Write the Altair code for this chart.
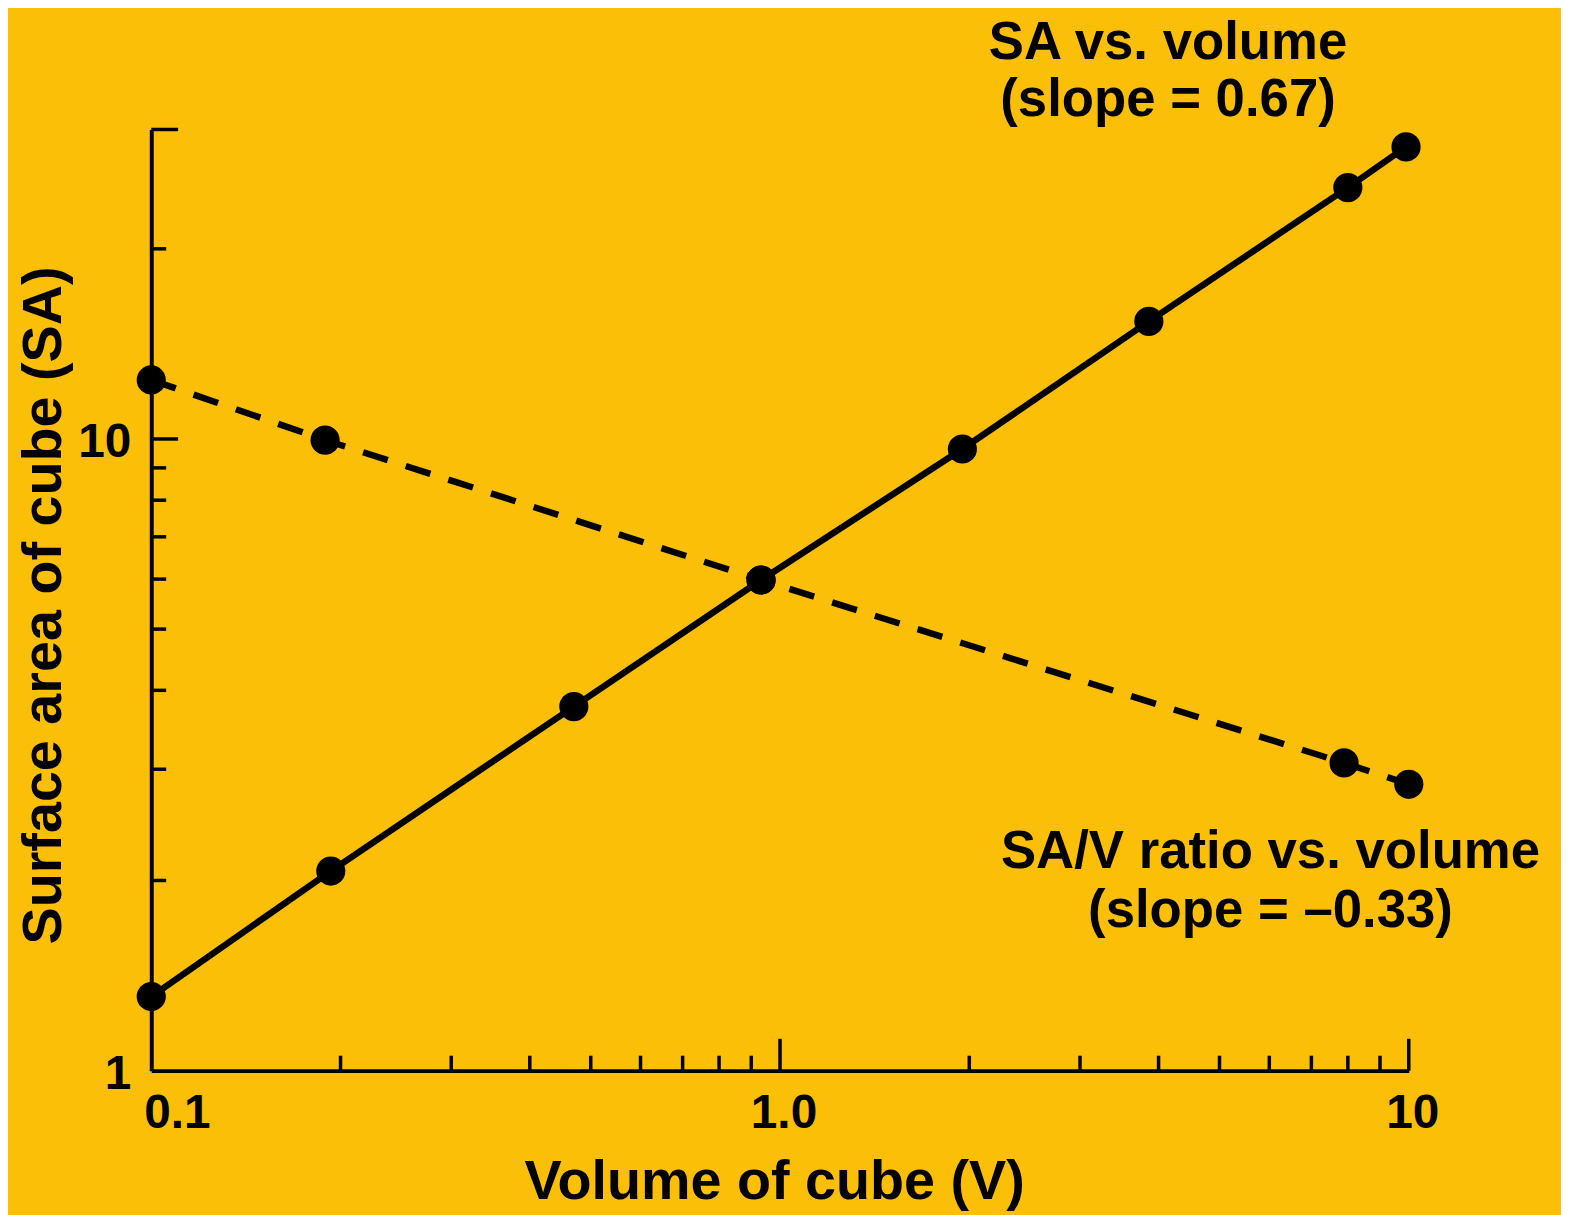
import altair as alt
import pandas as pd

# ---- data ----
volume_sa = [0.1, 0.193, 0.47, 0.933, 1.95, 3.86, 8.0, 9.9]
surface_area = [1.31, 2.07, 3.77, 5.98, 9.64, 15.35, 25.0, 29.0]
volume_ratio = [0.1, 0.189, 0.933, 7.89, 10.0]
sa_v_ratio = [12.4, 9.96, 5.98, 3.07, 2.84]

x_minor_ticks = [0.2, 0.3, 0.4, 0.5, 0.6, 0.7, 0.8, 0.9, 2, 3, 4, 5, 6, 7, 8, 9]
x_major_ticks = [1, 10]
y_minor_ticks = [2, 3, 4, 5, 6, 7, 8, 9, 20]
y_major_ticks = [10, 30.9]
x_label_values = [0.1, 1, 10]
x_label_texts = ["0.1", "1.0", "10"]
y_label_values = [1, 10]
y_label_texts = ["1", "10"]

annot_sa = ["SA vs. volume", "(slope = 0.67)"]
annot_ratio = ["SA/V ratio vs. volume", "(slope = \u20130.33)"]

X_DOMAIN = [0.1, 10]
Y_DOMAIN = [1, 30.9]
W, H = 1264, 946
BG = "#FCBF08"
FONT = "Liberation Sans"

xs = alt.Scale(type="log", domain=X_DOMAIN, nice=False)
ys = alt.Scale(type="log", domain=Y_DOMAIN, nice=False)

sa_df = pd.DataFrame({"V": volume_sa, "Y": surface_area})
ratio_df = pd.DataFrame({"V": volume_ratio, "Y": sa_v_ratio})

x_axis = alt.Axis(
    title="Volume of cube (V)", labels=False, ticks=False, grid=False,
    domain=True, domainColor="black", domainWidth=4,
    titleX=626, titleY=129, titleAlign="center", titleBaseline="alphabetic",
    titleFont=FONT, titleFontSize=56, titleFontWeight="bold", titleColor="black",
)
y_axis = alt.Axis(
    title="Surface area of cube (SA)", labels=False, ticks=False, grid=False,
    domain=True, domainColor="black", domainWidth=4,
    titleX=-91, titleY=478, titleAngle=270, titleAlign="center",
    titleBaseline="alphabetic",
    titleFont=FONT, titleFontSize=56, titleFontWeight="bold", titleColor="black",
)


def X(field):
    return alt.X(field, scale=xs, axis=x_axis)


def Y(field):
    return alt.Y(field, scale=ys, axis=y_axis)


sa_line = alt.Chart(sa_df).mark_line(color="black", strokeWidth=6.5).encode(
    x=X("V:Q"), y=Y("Y:Q"))
ratio_line = alt.Chart(ratio_df).mark_line(
    color="black", strokeWidth=6.5, strokeDash=[26, 19], strokeCap="butt"
).encode(x=X("V:Q"), y=Y("Y:Q"))
sa_pts = alt.Chart(sa_df).mark_circle(size=860, color="black", opacity=1).encode(
    x=X("V:Q"), y=Y("Y:Q"))
ratio_pts = alt.Chart(ratio_df).mark_circle(size=860, color="black", opacity=1).encode(
    x=X("V:Q"), y=Y("Y:Q"))

# inward-pointing ticks
xt_minor = alt.Chart(pd.DataFrame({"v": x_minor_ticks})).mark_rule(
    color="black", strokeWidth=3.5).encode(
    x=X("v:Q"), y=alt.value(H), y2=alt.value(H - 15))
xt_major = alt.Chart(pd.DataFrame({"v": x_major_ticks})).mark_rule(
    color="black", strokeWidth=3.5).encode(
    x=X("v:Q"), y=alt.value(H), y2=alt.value(H - 32))
yt_minor = alt.Chart(pd.DataFrame({"v": y_minor_ticks})).mark_rule(
    color="black", strokeWidth=3.5).encode(
    y=Y("v:Q"), x=alt.value(0), x2=alt.value(15))
yt_major = alt.Chart(pd.DataFrame({"v": y_major_ticks})).mark_rule(
    color="black", strokeWidth=3.5).encode(
    y=Y("v:Q"), x=alt.value(0), x2=alt.value(27))

# tick labels
xl_df = pd.DataFrame({"v": x_label_values, "t": x_label_texts})
xl_first = alt.Chart(xl_df.iloc[:1]).mark_text(
    align="left", baseline="alphabetic", dx=-7, font=FONT, fontSize=48,
    fontWeight="bold", color="black").encode(
    x=X("v:Q"), y=alt.value(H + 58), text="t:N")
xl_rest = alt.Chart(xl_df.iloc[1:]).mark_text(
    align="center", baseline="alphabetic", dx=4, font=FONT, fontSize=48,
    fontWeight="bold", color="black").encode(
    x=X("v:Q"), y=alt.value(H + 58), text="t:N")
yl = alt.Chart(pd.DataFrame({"v": y_label_values, "t": y_label_texts})).mark_text(
    align="right", baseline="middle", dy=4, font=FONT, fontSize=48,
    fontWeight="bold", color="black").encode(
    y=Y("v:Q"), x=alt.value(-20), text="t:N")

# annotations
one = pd.DataFrame({"a": [0]})
ann1 = alt.Chart(one).mark_text(
    align="center", baseline="alphabetic", lineHeight=57, font=FONT,
    fontSize=53, fontWeight="bold", color="black").encode(
    x=alt.value(1022), y=alt.value(-71), text=alt.value(annot_sa))
ann2 = alt.Chart(one).mark_text(
    align="center", baseline="alphabetic", lineHeight=60, font=FONT,
    fontSize=53, fontWeight="bold", color="black").encode(
    x=alt.value(1125), y=alt.value(742), text=alt.value(annot_ratio))

chart = alt.layer(
    sa_line, ratio_line, xt_minor, xt_major, yt_minor, yt_major,
    sa_pts, ratio_pts, xl_first, xl_rest, yl, ann1, ann2,
).properties(
    width=W, height=H,
    padding={"left": 144, "top": 119, "right": 153, "bottom": 142},
    autosize=alt.AutoSizeParams(type="none"),
).configure(background=BG).configure_view(stroke=None)

chart.save("out.html", embed_options={"renderer": "svg", "actions": False})
